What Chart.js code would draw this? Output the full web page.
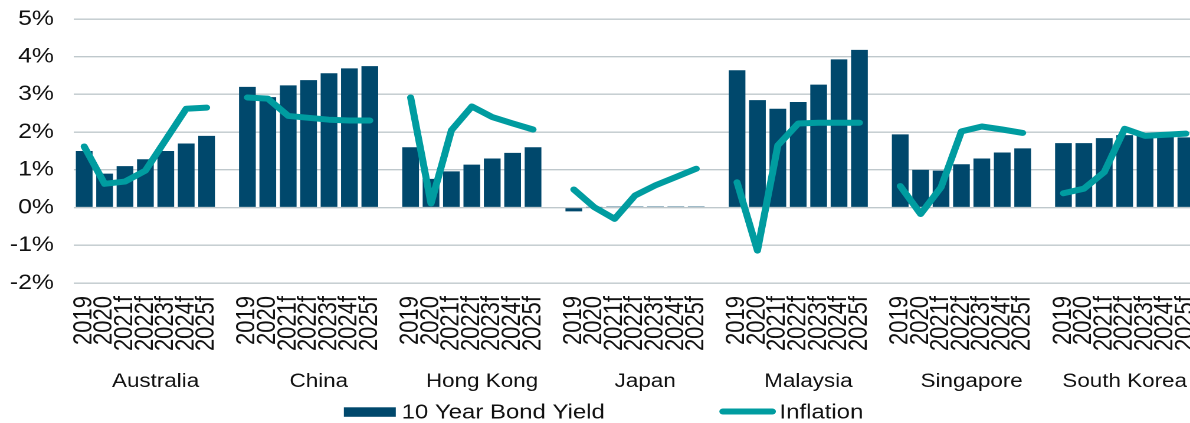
<!DOCTYPE html>
<html><head><meta charset="utf-8">
<script src="https://cdn.jsdelivr.net/npm/chart.js@4.4.0/dist/chart.umd.min.js"></script>
<style>
html,body{margin:0;padding:0;background:#fff;overflow:hidden;width:1190px;height:423px;}
#wrap{position:absolute;left:0;top:0;width:1017px;height:423px;transform:scaleX(1.18);transform-origin:0 0;}
</style></head><body>
<div id="wrap"><canvas id="c" width="1017" height="423"></canvas></div>
<script>
const countries = ['Australia', 'China', 'Hong Kong', 'Japan', 'Malaysia', 'Singapore', 'South Korea'];
const years = ['2019', '2020', '2021f', '2022f', '2023f', '2024f', '2025f'];
const bondYield = [
  [1.50, 0.90, 1.10, 1.28, 1.50, 1.70, 1.90],
  [3.20, 2.93, 3.24, 3.38, 3.56, 3.69, 3.75],
  [1.60, 0.76, 0.96, 1.14, 1.30, 1.45, 1.60],
  [-0.10, 0.01, 0.03, 0.03, 0.03, 0.03, 0.03],
  [3.64, 2.85, 2.62, 2.80, 3.26, 3.93, 4.18],
  [1.94, 1.00, 0.98, 1.15, 1.30, 1.46, 1.57],
  [1.71, 1.71, 1.84, 1.92, 1.90, 1.88, 1.86]
];
const inflation = [
  [1.62, 0.63, 0.69, 0.98, 1.80, 2.62, 2.65],
  [2.92, 2.89, 2.43, 2.38, 2.33, 2.31, 2.31],
  [2.92, 0.11, 2.05, 2.68, 2.40, 2.23, 2.07],
  [0.48, 0.01, -0.30, 0.32, 0.59, 0.81, 1.03],
  [0.67, -1.14, 1.65, 2.23, 2.25, 2.25, 2.25],
  [0.57, -0.17, 0.54, 2.02, 2.15, 2.07, 1.98],
  [0.38, 0.50, 0.94, 2.09, 1.90, 1.93, 1.96]
];
const yMin = -2, yMax = 5, yStep = 1;
const seriesNames = ['10 Year Bond Yield', 'Inflation'];

const BAR = '#00486C', LINE = '#009CA0', TXT = '#111111', FONT = '"Liberation Sans", Arial, sans-serif';

const labels = [], barData = [], lineData = [];
countries.forEach((c, i) => {
  if (i > 0) { labels.push(''); barData.push(null); lineData.push(null); }
  years.forEach((y, j) => { labels.push(y); barData.push(bondYield[i][j]); lineData.push(inflation[i][j]); });
});

const extras = {
  id: 'extras',
  afterDraw(chart) {
    const ctx = chart.ctx, x = chart.scales.x;
    const catW = x.getPixelForTick(1) - x.getPixelForTick(0);
    ctx.save();
    ctx.fillStyle = TXT;
    ctx.font = '19px ' + FONT;
    ctx.textAlign = 'center';
    ctx.textBaseline = 'alphabetic';
    countries.forEach((c, i) => {
      const first = i * (years.length + 1);
      const n = i < countries.length - 1 ? years.length + 1 : years.length;
      const start = x.getPixelForTick(first) - catW / 2;
      ctx.fillText(c, start + n * catW / 2, 387);
    });
    // legend
    ctx.font = '20.3px ' + FONT;
    ctx.textAlign = 'left';
    const w1 = ctx.measureText(seriesNames[0]).width, w2 = ctx.measureText(seriesNames[1]).width;
    const boxW = 44, gap1 = 5, itemGap = 97, lineW = 48, gap2 = 3;
    const total = boxW + gap1 + w1 + itemGap + lineW + gap2 + w2;
    let xx = chart.width / 2 - total / 2 + 3;
    ctx.fillStyle = BAR;
    ctx.fillRect(xx, 407.3, boxW, 9.5);
    xx += boxW + gap1;
    ctx.fillStyle = TXT;
    ctx.fillText(seriesNames[0], xx, 418.3);
    xx += w1 + itemGap;
    ctx.strokeStyle = LINE; ctx.lineWidth = 6; ctx.lineCap = 'round';
    ctx.beginPath(); ctx.moveTo(xx + 3, 411.5); ctx.lineTo(xx + lineW - 3, 411.5); ctx.stroke();
    xx += lineW + gap2;
    ctx.fillText(seriesNames[1], xx, 418.3);
    ctx.restore();
  }
};

new Chart(document.getElementById('c'), {
  data: {
    labels,
    datasets: [
      { type: 'line', label: seriesNames[1], data: lineData, borderColor: LINE, backgroundColor: LINE,
        borderWidth: 6, pointRadius: 0, pointHoverRadius: 0, borderCapStyle: 'round', borderJoinStyle: 'round',
        spanGaps: false, tension: 0, order: 0 },
      { type: 'bar', label: seriesNames[0], data: barData, backgroundColor: BAR, borderWidth: 0,
        categoryPercentage: 1, barPercentage: 0.82, order: 1 }
    ]
  },
  options: {
    responsive: false, animation: false, devicePixelRatio: 2,
    layout: { padding: { left: 0, right: 3.4, top: 19, bottom: 0 } },
    plugins: { legend: { display: false }, tooltip: { enabled: false } },
    scales: {
      x: {
        grid: { display: false, drawTicks: false }, border: { display: false },
        ticks: { autoSkip: false, maxRotation: 90, minRotation: 90, padding: 13, color: TXT, font: { family: FONT, size: 22 } },
        afterFit(s) { s.height = 140; s.paddingLeft = 0; s.paddingRight = 0; }
      },
      y: {
        min: yMin, max: yMax,
        grid: { color: '#BFC8CC', lineWidth: 1.4, drawTicks: false }, border: { display: false },
        ticks: { stepSize: yStep, padding: 17, color: TXT, font: { family: FONT, size: 21 }, callback: v => v + '%' },
        afterFit(s) { s.width = 62.7; s.paddingTop = 0; s.paddingBottom = 0; }
      }
    }
  },
  plugins: [extras]
});
</script>
</body></html>
